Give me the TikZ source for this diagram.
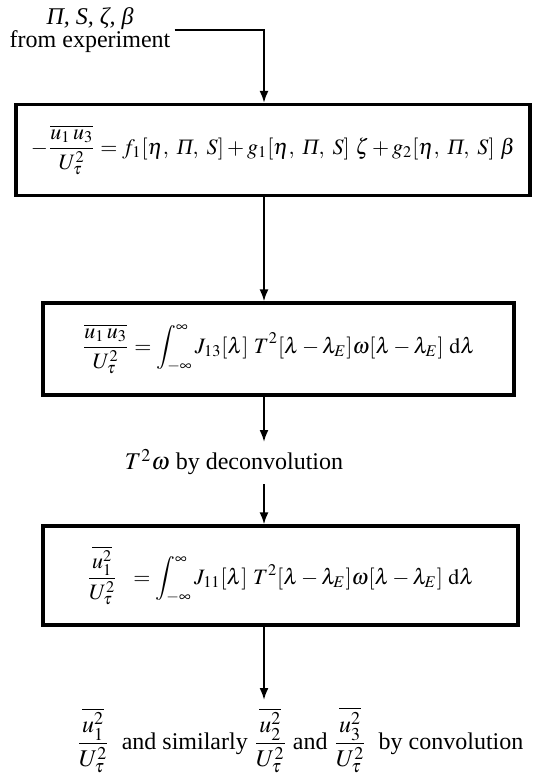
\documentclass[tikz,border=0pt]{standalone}
\usepackage{amsmath}
\usepackage{mathptmx}
\usepackage[no-math]{fontspec}
\setmainfont{Liberation Serif}
\usetikzlibrary{positioning,arrows.meta}

\newcommand{\itPi}{\text{\itshape Π}}
\newcommand{\ufrac}[1]{\dfrac{\overline{#1}}{U_\tau^2}}

\begin{document}
\begin{tikzpicture}[x=0.5pt, y=-0.5pt,
    font=\fontsize{12}{14.5}\selectfont,
    eqbox/.style={rectangle, draw=black, line width=1.6pt, inner sep=0pt, font=\fontsize{11}{13}\selectfont},
    arrow/.style={-{Latex[length=6pt,width=4.5pt]}, line width=1pt},
    note/.style={align=center, inner sep=2pt, font=\fontsize{12}{11.5}\selectfont}
]
\useasboundingbox (0,0) rectangle (537,776);

% input from experiment
\node[note] (src) at (90,30) {\textit{Π, S, ζ, β}\\from experiment};
\coordinate (ax) at (264,0);

% fitted shear stress
\node[eqbox, minimum width=257pt, minimum height=45.5pt] (fit) at (273,150)
  {$-\ufrac{u_1\,u_3} = f_1[\eta,\ \itPi,\ S] + g_1[\eta,\ \itPi,\ S]\ \zeta + g_2[\eta,\ \itPi,\ S]\ \beta$};
\draw[arrow] (src.east) -| (fit.north -| ax);

% shear stress convolution
\node[eqbox, minimum width=235.5pt, minimum height=46pt] (conv13) at (278.5,349)
  {$\ufrac{u_1\,u_3} = \displaystyle\int_{-\infty}^{\infty} J_{13}[\lambda]\ T^2[\lambda-\lambda_E]\omega[\lambda-\lambda_E]\ \mathrm{d}\lambda$};
\draw[arrow] (fit.south -| ax) -- (conv13.north -| ax);

% deconvolution
\node (deconv) at (234,462) {$T^2\omega$ by deconvolution};
\coordinate (dtop) at (264,442);
\draw[arrow] (conv13.south -| ax) -- (dtop);

% normal stress convolution
\node[eqbox, minimum width=237.5pt, minimum height=49.5pt] (conv11) at (280.5,575.5)
  {$\ufrac{u_1^2} \ \ = \displaystyle\int_{-\infty}^{\infty} J_{11}[\lambda]\ T^2[\lambda-\lambda_E]\omega[\lambda-\lambda_E]\ \mathrm{d}\lambda$};
\coordinate (dbot) at (264,484);
\draw[arrow] (dbot) -- (conv11.north -| ax);

% result
\node (res) at (300,740) {$\ufrac{u_1^2}$\ \ and similarly $\ufrac{u_2^2}$ and $\ufrac{u_3^2}$\ \ by convolution};
\coordinate (rtop) at (264,700);
\draw[arrow] (conv11.south -| ax) -- (rtop);

\end{tikzpicture}
\end{document}
